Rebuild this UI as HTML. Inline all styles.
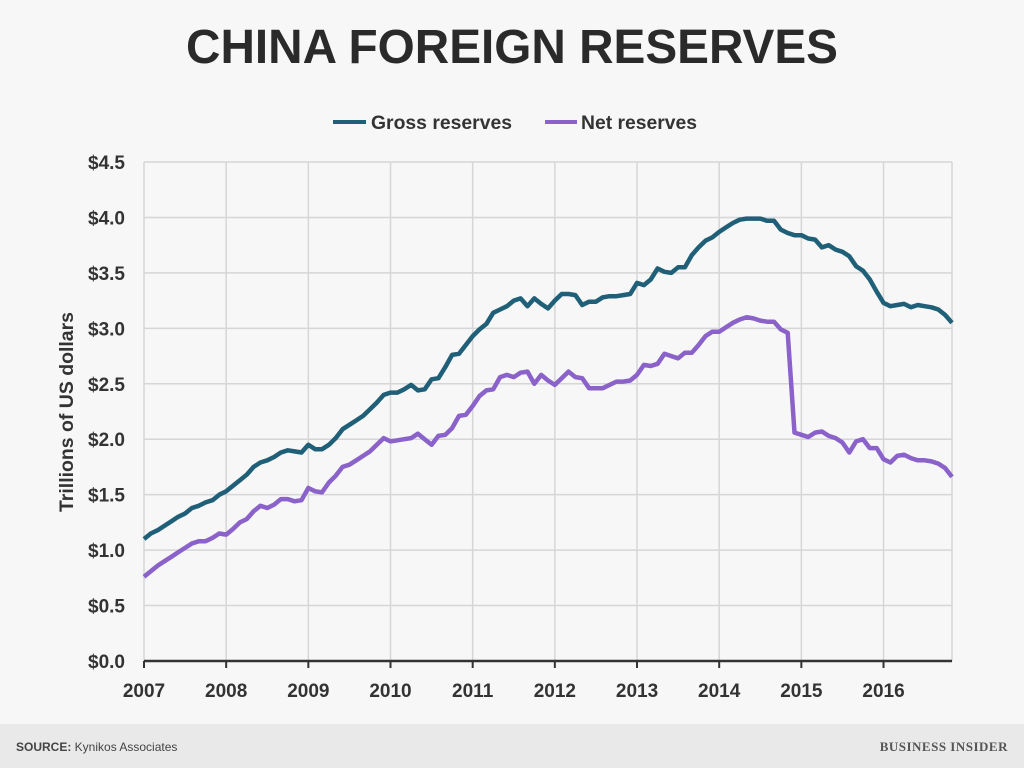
<!DOCTYPE html>
<html><head><meta charset="utf-8"><style>
body{margin:0;background:#f7f7f7;font-family:"Liberation Sans",sans-serif}
svg{display:block}
</style></head><body>
<svg width="1024" height="768">
<rect x="0" y="0" width="1024" height="768" fill="#f7f7f7"/>
<text x="512" y="63" text-anchor="middle" font-size="48" font-weight="bold" fill="#2a2a2a" textLength="652" lengthAdjust="spacingAndGlyphs">CHINA FOREIGN RESERVES</text>
<g font-weight="bold">
<line x1="333" y1="122" x2="366" y2="122" stroke="#1f5f78" stroke-width="4"/>
<text x="371" y="129" font-size="19" fill="#333" textLength="141" lengthAdjust="spacingAndGlyphs">Gross reserves</text>
<line x1="545" y1="122" x2="577" y2="122" stroke="#8a62c9" stroke-width="4"/>
<text x="581" y="129" font-size="19" fill="#333" textLength="116" lengthAdjust="spacingAndGlyphs">Net reserves</text>
</g>
<g id="grid"></g>
<g id="axes" font-weight="bold"></g>
<g id="series"></g>
<text transform="translate(73,412) rotate(-90)" text-anchor="middle" font-size="19" font-weight="bold" fill="#333" textLength="200" lengthAdjust="spacingAndGlyphs">Trillions of US dollars</text>
<rect x="0" y="724" width="1024" height="44" fill="#e9e9e9"/>
<text x="16" y="751" font-size="12" fill="#444"><tspan font-weight="bold">SOURCE:</tspan> Kynikos Associates</text>
<text x="1008" y="751" text-anchor="end" font-family="Liberation Serif,serif" font-size="13" font-weight="bold" fill="#555" letter-spacing="0.5">BUSINESS INSIDER</text>
</svg>
<script>
const yTicks=[0,0.5,1,1.5,2,2.5,3,3.5,4,4.5];
const yLabels=["$0.0","$0.5","$1.0","$1.5","$2.0","$2.5","$3.0","$3.5","$4.0","$4.5"];
const years=["2007","2008","2009","2010","2011","2012","2013","2014","2015","2016"];
const gross=[
1.10,1.15,1.18,1.22,1.26,1.30,1.33,1.38,1.40,1.43,1.45,1.50,
1.53,1.58,1.63,1.68,1.75,1.79,1.81,1.84,1.88,1.90,1.89,1.88,
1.95,1.91,1.91,1.95,2.01,2.09,2.13,2.17,2.21,2.27,2.33,2.40,
2.42,2.42,2.45,2.49,2.44,2.45,2.54,2.55,2.65,2.76,2.77,2.85,
2.93,2.99,3.04,3.14,3.17,3.20,3.25,3.27,3.20,3.27,3.22,3.18,
3.25,3.31,3.31,3.30,3.21,3.24,3.24,3.28,3.29,3.29,3.30,3.31,
3.41,3.39,3.44,3.54,3.51,3.50,3.55,3.55,3.66,3.73,3.79,3.82,
3.87,3.91,3.95,3.98,3.99,3.99,3.99,3.97,3.97,3.89,3.86,3.84,
3.84,3.81,3.80,3.73,3.75,3.71,3.69,3.65,3.56,3.52,3.44,3.33,
3.23,3.20,3.21,3.22,3.19,3.21,3.20,3.19,3.17,3.12,3.05];
const net=[
0.76,0.81,0.86,0.90,0.94,0.98,1.02,1.06,1.08,1.08,1.11,1.15,
1.14,1.19,1.25,1.28,1.35,1.40,1.38,1.41,1.46,1.46,1.44,1.45,
1.56,1.53,1.52,1.61,1.67,1.75,1.77,1.81,1.85,1.89,1.95,2.01,
1.98,1.99,2.00,2.01,2.05,2.00,1.95,2.03,2.04,2.10,2.21,2.22,
2.30,2.39,2.44,2.45,2.56,2.58,2.56,2.60,2.61,2.50,2.58,2.53,
2.49,2.55,2.61,2.56,2.55,2.46,2.46,2.46,2.49,2.52,2.52,2.53,
2.58,2.67,2.66,2.68,2.77,2.75,2.73,2.78,2.78,2.85,2.93,2.97,
2.97,3.01,3.05,3.08,3.10,3.09,3.07,3.06,3.06,2.99,2.96,2.06,
2.04,2.02,2.06,2.07,2.03,2.01,1.97,1.88,1.98,2.00,1.92,1.92,
1.82,1.79,1.85,1.86,1.83,1.81,1.81,1.80,1.78,1.74,1.66];
const NS="http://www.w3.org/2000/svg";
const X0=144,X1=952,Y0=661,YT=162,MONTHS=118;
function xs(m){return X0+(X1-X0)*m/MONTHS;}
function ys(v){return Y0-(Y0-YT)*v/4.5;}
function mk(t,a,p){const e=document.createElementNS(NS,t);for(const k in a)e.setAttribute(k,a[k]);p.appendChild(e);return e;}
const grid=document.getElementById('grid'),axes=document.getElementById('axes'),ser=document.getElementById('series');
yTicks.forEach((v,i)=>{
 if(v>0){const l=mk('line',{x1:X0,x2:X1,y1:ys(v),y2:ys(v),stroke:'#d6d6d6','stroke-width':1.5},grid);
 
 }
 const t=mk('text',{x:125,y:ys(v)+7,'text-anchor':'end','font-size':19,fill:'#333'},axes);
 t.textContent=yLabels[i];
 
 
});
years.forEach((y,i)=>{
 const x=xs(i*12);
 const g=mk('line',{x1:x,x2:x,y1:YT,y2:Y0,stroke:'#d6d6d6','stroke-width':1.5},grid);
 
 
 const tk=mk('line',{x1:x,x2:x,y1:Y0,y2:Y0+7,stroke:'#333','stroke-width':2},axes);
 
 
 const t=mk('text',{x:x,y:697,'text-anchor':'middle','font-size':19,fill:'#333'},axes);
 t.textContent=y;
 
 
});
const rb=mk('line',{x1:X1,x2:X1,y1:YT,y2:Y0,stroke:'#d6d6d6','stroke-width':1.5},grid);


const ax=mk('line',{x1:X0,x2:X1,y1:Y0,y2:Y0,stroke:'#333','stroke-width':2.5},axes);


function line(arr,col,name){
 const d=arr.map((v,i)=>(i?'L':'M')+xs(i).toFixed(1)+','+ys(v).toFixed(1)).join('');
 const p=mk('path',{d:d,fill:'none',stroke:col,'stroke-width':4.5,'stroke-linejoin':'round'},ser);
 
 
}
line(gross,'#1f5f78','gross-reserves-line');
line(net,'#8a62c9','net-reserves-line');
</script>
</body></html>
